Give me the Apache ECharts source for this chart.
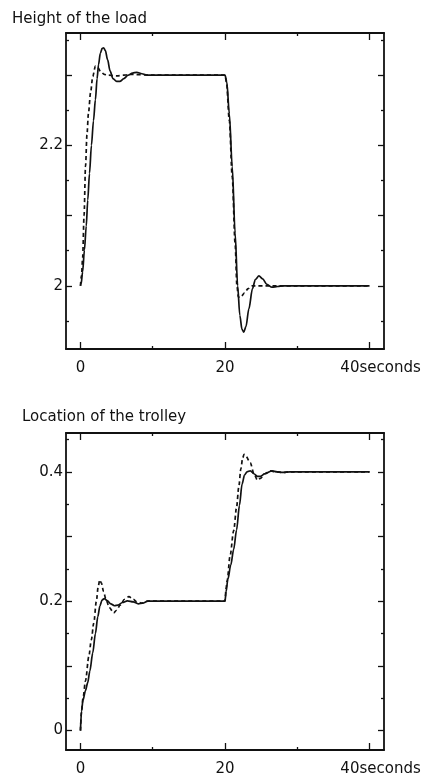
<!DOCTYPE html>
<html>
<head>
<meta charset="utf-8">
<script src="https://cdn.jsdelivr.net/npm/echarts@6/dist/echarts.min.js"></script>
<style>
html,body{margin:0;padding:0;background:#fff;}
#chart{width:428px;height:778px;}
</style>
</head>
<body>
<div id="chart"></div>
<script>
// ---- data (time in seconds, value) ----
var titles = ['Height of the load', 'Location of the trolley'];

var loadSolid = [
  [0,2.0],[0.1,2.003],[0.3,2.02],[0.55,2.051],[0.8,2.085],[1.01,2.122],[1.25,2.16],[1.52,2.2],
  [1.8,2.235],[2.07,2.265],[2.3,2.295],[2.5,2.315],[2.75,2.331],[3.0,2.338],[3.2,2.339],[3.45,2.335],
  [3.75,2.322],[4.1,2.306],[4.5,2.295],[5.0,2.291],[5.45,2.291],[6.0,2.295],[6.6,2.3],[7.2,2.303],
  [7.8,2.304],[8.5,2.302],[9.3,2.3],[12,2.3],[16,2.3],[20,2.3],
  [20.25,2.29],[20.6,2.245],[21.0,2.17],[21.4,2.075],[21.75,2.0],[22.05,1.958],[22.35,1.938],
  [22.6,1.934],[22.9,1.942],[23.3,1.967],[23.8,1.996],[24.2,2.009],[24.7,2.014],[25.2,2.01],
  [25.8,2.002],[26.5,1.998],[27.3,1.999],[28,2.0],[34,2.0],[40,2.0]
];
var loadDashed = [
  [0,2.0],[0.15,2.015],[0.3,2.04],[0.5,2.1],[0.7,2.17],[0.9,2.215],[1.1,2.245],[1.4,2.275],
  [1.7,2.298],[2.07,2.313],[2.4,2.311],[2.8,2.305],[3.3,2.301],[3.7,2.3],[5,2.299],[7,2.301],
  [10,2.3],[20,2.3],
  [20.2,2.29],[20.6,2.235],[21.0,2.155],[21.4,2.06],[21.65,2.0],[21.85,1.984],[22.2,1.984],
  [22.7,1.99],[23.2,1.996],[23.7,2.0],[30,2.0],[40,2.0]
];
var trolleySolid = [
  [0,0],[0.15,0.03],[0.35,0.047],[0.7,0.062],[1.0,0.074],[1.3,0.092],[1.7,0.12],[2.07,0.15],
  [2.4,0.176],[2.7,0.193],[3.0,0.202],[3.3,0.204],[3.7,0.201],[4.2,0.196],[4.7,0.193],[5.2,0.194],
  [5.8,0.198],[6.5,0.2005],[7.3,0.199],[8.0,0.196],[8.6,0.197],[9.3,0.2],[12,0.2],[20,0.2],
  [20.15,0.215],[20.4,0.234],[20.8,0.256],[21.2,0.28],[21.6,0.31],[22.0,0.348],[22.36,0.381],
  [22.7,0.395],[23.05,0.4],[23.5,0.4015],[24.0,0.397],[24.5,0.393],[24.9,0.393],[25.5,0.397],
  [26.5,0.4015],[27.2,0.4],[28,0.399],[29,0.4],[40,0.4]
];
var trolleyDashed = [
  [0,0],[0.15,0.03],[0.35,0.05],[0.7,0.077],[1.15,0.114],[1.5,0.14],[1.84,0.166],[2.2,0.2],
  [2.45,0.222],[2.67,0.233],[2.9,0.228],[3.2,0.215],[3.5,0.204],[4.0,0.19],[4.6,0.182],[5.0,0.186],
  [5.5,0.194],[6.1,0.203],[6.7,0.207],[7.3,0.203],[7.8,0.199],[8.5,0.197],[9.3,0.2],[20,0.2],
  [20.15,0.22],[20.3,0.232],[20.7,0.27],[21.2,0.309],[21.6,0.345],[21.9,0.376],[22.2,0.405],
  [22.45,0.422],[22.65,0.427],[22.9,0.424],[23.5,0.414],[24.0,0.397],[24.5,0.387],[24.9,0.39],
  [25.5,0.397],[26.3,0.4015],[27.0,0.4],[28,0.399],[29,0.4],[40,0.4]
];

// ---- ticks and labels ----
var xMajorTicks = [0, 20, 40];
var xMinorTicks = [10, 30];
var xLabels = [0, 20, 40];
var loadMajorTicks = [2.0, 2.1, 2.2, 2.3];
var loadMinorTicks = [1.95, 2.05, 2.15, 2.25, 2.35];
var loadLabels = [2, 2.2];
var trolleyMajorTicks = [0, 0.1, 0.2, 0.3, 0.4];
var trolleyMinorTicks = [0.05, 0.15, 0.25, 0.35, 0.45];
var trolleyLabels = [0, 0.2, 0.4];

var FONT = 'DejaVu Sans';
var INK = '#111';

var grids = [
  {left: 66, top: 33, right: 44, height: 316},
  {left: 66, top: 433, right: 44, height: 317}
];
var xRange = [-2, 42];
var yRanges = [[1.91, 2.36], [-0.03, 0.46]];
var yMajor = [loadMajorTicks, trolleyMajorTicks];
var yMinor = [loadMinorTicks, trolleyMinorTicks];
var yLab = [loadLabels, trolleyLabels];
var solids = [loadSolid, trolleySolid];
var dashes = [loadDashed, trolleyDashed];

var xAxes = [], yAxes = [], series = [];
function tickAxis(base, ticks, len, showLine, labels) {
  var a = Object.assign({
    type: 'value', splitLine: {show: false},
    axisLine: {show: showLine, onZero: false, lineStyle: {color: INK, width: 1.8}},
    axisTick: {show: true, inside: true, length: len, customValues: ticks, lineStyle: {color: INK, width: 1.3}},
    axisLabel: {show: false}
  }, base);
  if (labels) {
    a.axisLabel = labels;
  }
  return a;
}
for (var g = 0; g < 2; g++) {
  var xb = {gridIndex: g, min: xRange[0], max: xRange[1]};
  var yb = {gridIndex: g, min: yRanges[g][0], max: yRanges[g][1]};
  var mainX = xAxes.length;
  xAxes.push(tickAxis(Object.assign({position: 'bottom'}, xb), xMajorTicks, 7, true, {
    show: true, customValues: xLabels, margin: 12, color: INK, fontFamily: FONT, fontSize: 15,
    formatter: function (v) { return v === 40 ? '{s|40seconds}' : String(v); },
    rich: {s: {fontFamily: FONT, fontSize: 15, color: INK, padding: [0, 0, 0, 22]}}
  }));
  xAxes.push(tickAxis(Object.assign({position: 'bottom'}, xb), xMinorTicks, 3, false));
  xAxes.push(tickAxis(Object.assign({position: 'top'}, xb), xMajorTicks, 7, true));
  xAxes.push(tickAxis(Object.assign({position: 'top'}, xb), xMinorTicks, 3, false));
  var mainY = yAxes.length;
  yAxes.push(tickAxis(Object.assign({position: 'left'}, yb), yMajor[g], 6, true, {
    show: true, customValues: yLab[g], margin: 3, color: INK, fontFamily: FONT, fontSize: 15,
    formatter: function (v) { return String(Math.round(v * 10) / 10); }
  }));
  yAxes.push(tickAxis(Object.assign({position: 'left'}, yb), yMinor[g], 3, false));
  yAxes.push(tickAxis(Object.assign({position: 'right'}, yb), yMajor[g], 6, true));
  yAxes.push(tickAxis(Object.assign({position: 'right'}, yb), yMinor[g], 3, false));

  series.push({
    type: 'line', xAxisIndex: mainX, yAxisIndex: mainY, data: solids[g],
    showSymbol: false, smooth: 0.3, smoothMonotone: 'x', clip: true,
    lineStyle: {color: INK, width: 1.7, type: 'solid'}, silent: true
  });
  series.push({
    type: 'line', xAxisIndex: mainX, yAxisIndex: mainY, data: dashes[g],
    showSymbol: false, smooth: 0.3, smoothMonotone: 'x', clip: true,
    lineStyle: {color: INK, width: 1.7, type: [4, 3]}, silent: true
  });
}

var chart = echarts.init(document.getElementById('chart'), null, {renderer: 'canvas'});
chart.setOption({
  animation: false,
  backgroundColor: '#fff',
  title: [
    {text: titles[0], left: 12, top: 12, padding: 0, textStyle: {fontFamily: FONT, fontSize: 15, fontWeight: 'normal', color: INK}},
    {text: titles[1], left: 22, top: 410, padding: 0, textStyle: {fontFamily: FONT, fontSize: 15, fontWeight: 'normal', color: INK}}
  ],
  grid: grids,
  xAxis: xAxes,
  yAxis: yAxes,
  series: series
});
</script>
</body>
</html>
